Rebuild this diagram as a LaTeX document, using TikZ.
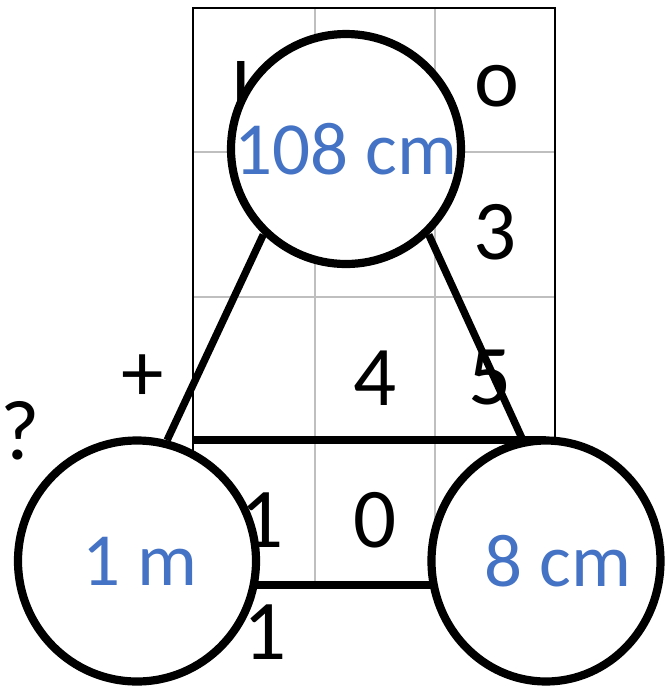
\documentclass[tikz,border=0pt]{standalone}
\usepackage{fontspec}
\setmainfont{Carlito}
\usetikzlibrary{shapes.geometric}
\definecolor{lblBlue}{HTML}{4472C4}
\definecolor{gridGray}{HTML}{BFBFBF}

\begin{document}
\begin{tikzpicture}[x=0.5pt,y=-0.5pt,
    digit/.style={font=\fontsize{42.5}{42.5}\selectfont,inner sep=0pt},
    ring/.style={draw,line width=4.1pt,fill=white,inner sep=0pt},
    lbl/.style={font=\fontsize{37.5}{37.5}\selectfont,text=lblBlue,inner sep=0pt},
    bar/.style={line width=3.7pt}]
  \useasboundingbox (0,0) rectangle (668,693);
  % grid
  \draw[gridGray,line width=1pt] (315,8) -- (315,585) (435,8) -- (435,585)
    (193,152) -- (555,152) (193,297) -- (555,297);
  \draw[line width=1pt] (193,8) rectangle (555,585);
  % digits in the cells
  \begin{scope}
    \clip (200,40) rectangle (300,100);
    \node[digit] (dl) at (241,91) {l};
  \end{scope}
  \node[digit] (do) at (497,86) {o};
  \node[digit] (d3) at (495,232) {3};
  \node[digit] (dplus) at (143,378) {+};
  \node[digit] (d4) at (375,378) {4};
  \node[digit] (d5) at (490,378) {5};
  \node[digit] (dq) at (20,431) {?};
  \node[digit] (d1) at (262,520) {1};
  \node[digit] (d0) at (375,520) {0};
  \node[digit] (d1b) at (265,632) {1};
  % bars
  \coordinate (gl) at (193,440);
  \coordinate (gr) at (546,440);
  \coordinate (bl) at (137,585);
  \coordinate (br) at (546,585);
  \draw[bar] (gl) -- (gr);
  \draw[bar] (bl) -- (br);
  % circles
  \node[ring,circle,minimum size=115pt] (top) at (346,149) {};
  \node[ring,ellipse,minimum width=119pt,minimum height=120.5pt] (left) at (137,561) {};
  \node[ring,ellipse,minimum width=114.5pt,minimum height=120.5pt] (right) at (546,561) {};
  \draw[bar] (top.226) -- (left.76);
  \draw[bar] (top.314) -- (right.101);
  \node[lbl] (toplbl) at (top) {108 cm};
  \node[lbl] (leftlbl) at ([xshift=1.5pt]left.center) {1 m};
  \node[lbl] (rightlbl) at ([xshift=6pt]right.center) {8 cm};
\end{tikzpicture}
\end{document}
